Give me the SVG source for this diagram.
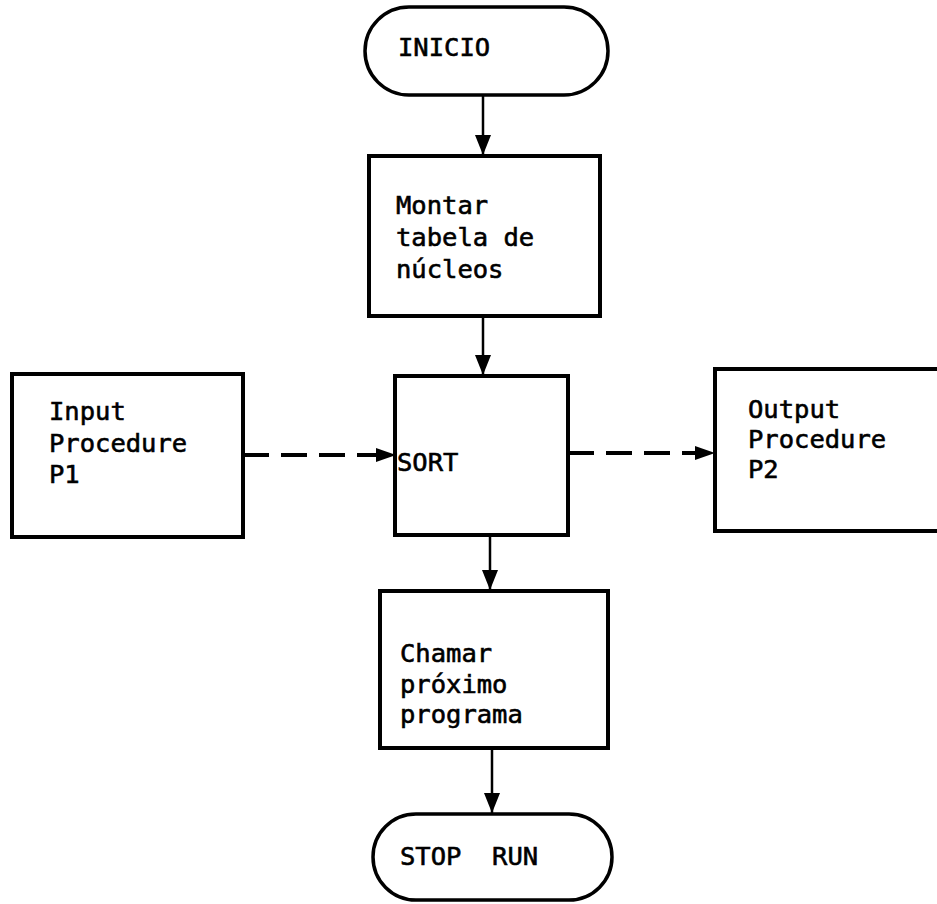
<svg xmlns="http://www.w3.org/2000/svg" width="937" height="904" viewBox="0 0 937 904">
<style>
  .box { fill: #fff; stroke: #000; stroke-width: 4; }
  .term { fill: #fff; stroke: #000; stroke-width: 3.5; }
  .t { font-family: "DejaVu Sans Mono", "Liberation Mono", monospace; font-size: 25.5px; fill: #000; stroke: #000; stroke-width: 0.6; white-space: pre; }
  .flow { stroke: #000; stroke-width: 2.5; fill: none; }
  .dash { stroke: #000; stroke-width: 4; fill: none; stroke-dasharray: 26 12; }
</style>
<defs>
  <marker id="ah" viewBox="0 0 20 16" refX="20" refY="8" markerWidth="20" markerHeight="16" markerUnits="userSpaceOnUse" orient="auto">
    <path d="M0,0 L20,8 L0,16 Z" fill="#000"/>
  </marker>
</defs>
<rect width="937" height="904" fill="#fff"/>
<g id="connectors">
  <line class="flow" x1="483" y1="95" x2="483" y2="155" marker-end="url(#ah)"/>
  <line class="flow" x1="483" y1="316" x2="483" y2="375" marker-end="url(#ah)"/>
  <line class="flow" x1="490" y1="535" x2="490" y2="590" marker-end="url(#ah)"/>
  <line class="flow" x1="492" y1="748" x2="492" y2="813" marker-end="url(#ah)"/>
  <line class="dash" x1="243" y1="455" x2="378" y2="455"/>
  <path d="M376,448 L396,455 L376,462 Z" fill="#000"/>
  <line class="dash" x1="568" y1="453" x2="697" y2="453"/>
  <path d="M695,446 L715,453 L695,460 Z" fill="#000"/>
</g>
<g id="inicio">
  <rect class="term" x="365" y="7" width="243" height="88" rx="44" ry="44"/>
  <text class="t" x="398" y="56">INICIO</text>
</g>
<g id="montar">
  <rect class="box" x="369" y="156" width="231" height="160"/>
  <text class="t" x="396" y="214">Montar</text>
  <text class="t" x="396" y="246">tabela de</text>
  <text class="t" x="396" y="278">núcleos</text>
</g>
<g id="input">
  <rect class="box" x="12" y="374" width="231" height="163"/>
  <text class="t" x="49" y="420">Input</text>
  <text class="t" x="49" y="452">Procedure</text>
  <text class="t" x="49" y="483">P1</text>
</g>
<g id="sort">
  <rect class="box" x="395" y="376" width="173" height="159"/>
  <text class="t" x="397" y="471">SORT</text>
</g>
<g id="output">
  <rect class="box" x="715" y="369" width="240" height="162"/>
  <text class="t" x="748" y="418">Output</text>
  <text class="t" x="748" y="448">Procedure</text>
  <text class="t" x="748" y="478">P2</text>
</g>
<g id="chamar">
  <rect class="box" x="380" y="591" width="228" height="157"/>
  <text class="t" x="400" y="662">Chamar</text>
  <text class="t" x="400" y="693">próximo</text>
  <text class="t" x="400" y="723">programa</text>
</g>
<g id="stop">
  <rect class="term" x="373" y="814" width="239" height="86" rx="43" ry="43"/>
  <text class="t" x="400" y="865">STOP  RUN</text>
</g>
</svg>
